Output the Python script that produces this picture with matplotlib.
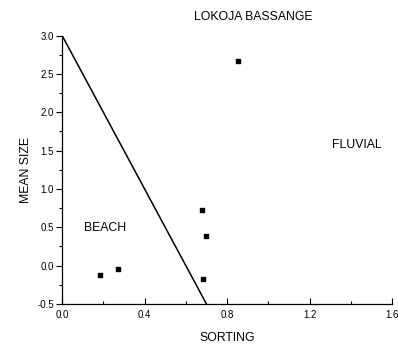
import numpy as np
import matplotlib
matplotlib.use("Agg")
import matplotlib.pyplot as plt
from matplotlib.ticker import MultipleLocator, FormatStrFormatter

plt.rcParams['font.family'] = ['Liberation Sans', 'DejaVu Sans']

# sample points (sorting, mean size)
sorting = [0.184, 0.27, 0.685, 0.677, 0.70, 0.855]
mean_size = [-0.12, -0.04, -0.18, 0.73, 0.38, 2.67]

# beach / fluvial dividing line
line_x = [0.0, 0.70]
line_y = [3.0, -0.5]

fig = plt.figure(figsize=(3.98, 3.45), dpi=100)
ax = fig.add_axes([0.156, 0.119, 0.829, 0.778])

ax.plot(line_x, line_y, color="black", linewidth=1.1)
ax.scatter(sorting, mean_size, marker="s", s=10, color="black", zorder=3)

ax.set_xlim(0, 1.6)
ax.set_ylim(-0.5, 3.0)
ax.xaxis.set_major_locator(MultipleLocator(0.4))
ax.xaxis.set_minor_locator(MultipleLocator(0.2))
ax.xaxis.set_major_formatter(FormatStrFormatter("%.1f"))
ax.yaxis.set_major_locator(MultipleLocator(0.5))
ax.yaxis.set_minor_locator(MultipleLocator(0.25))
ax.yaxis.set_major_formatter(FormatStrFormatter("%.1f"))
ax.tick_params(axis='x', which='both', direction='in', labelsize=7, pad=4)
ax.tick_params(axis='y', which='both', direction='out', labelsize=7, pad=2)
ax.tick_params(which='major', length=4, width=0.8)
ax.tick_params(which='minor', length=2, width=0.8)

for s in ["top", "right"]:
    ax.spines[s].set_visible(False)
for s in ["left", "bottom"]:
    ax.spines[s].set_linewidth(0.9)

ax.set_xlabel("SORTING", fontsize=8.8, labelpad=9)
ax.set_ylabel("MEAN SIZE", fontsize=8.8, labelpad=4)

ax.text(0.926, 3.24, "LOKOJA BASSANGE", fontsize=8.8, ha="center", va="center", clip_on=False)
ax.text(1.43, 1.57, "FLUVIAL", fontsize=8.8, ha="center", va="center")
ax.text(0.21, 0.49, "BEACH", fontsize=8.8, ha="center", va="center")

fig.savefig("out.png", dpi=100)
